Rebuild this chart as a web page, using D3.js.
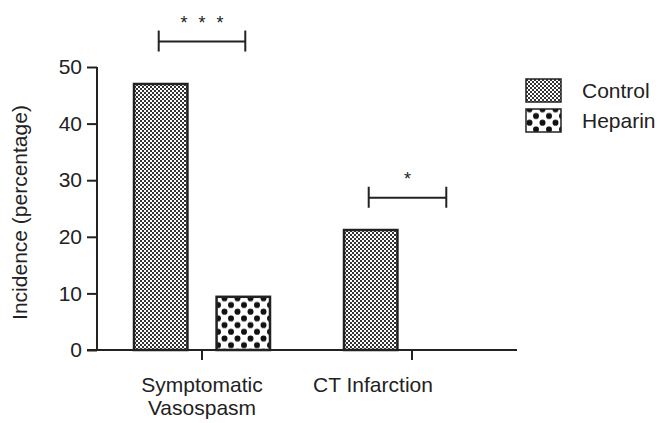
<!DOCTYPE html>
<html><head><meta charset="utf-8">
<script src="https://cdn.jsdelivr.net/npm/d3@7"></script>
<style>
body{margin:0;background:#fff;}
text{font-family:"Liberation Sans",Arial,Helvetica,sans-serif;fill:#222;}
</style></head>
<body><svg id="chart" width="668" height="423"></svg>
<script>
const categories = ["Symptomatic Vasospasm", "CT Infarction"];
const categoryLines = [["Symptomatic", "Vasospasm"], ["CT Infarction"]];
const seriesNames = ["Control", "Heparin"];
const controlValues = [47, 21.2];
const heparinValues = [9.4, 0];
const yTicks = [0, 10, 20, 30, 40, 50];
const yLabel = "Incidence (percentage)";
const significance = [
  {category: "Symptomatic Vasospasm", level: 54.5, label: "* * *"},
  {category: "CT Infarction", level: 26.9, label: "*"}
];

const svg = d3.select("#chart");
const defs = svg.append("defs");
// checker pattern
const chk = defs.append("pattern").attr("id","checker").attr("patternUnits","userSpaceOnUse")
  .attr("width",4).attr("height",4);
chk.append("rect").attr("width",4).attr("height",4).attr("fill","#fff");
chk.append("rect").attr("width",2).attr("height",2).attr("fill","#333");
chk.append("rect").attr("x",2).attr("y",2).attr("width",2).attr("height",2).attr("fill","#333");
// dot pattern
const dot = defs.append("pattern").attr("id","dots").attr("patternUnits","userSpaceOnUse")
  .attr("width",13).attr("height",13.4);
dot.append("rect").attr("width",13).attr("height",13.4).attr("fill","#fff");
dot.append("circle").attr("cx",3.5).attr("cy",3.5).attr("r",3).attr("fill","#111");
dot.append("circle").attr("cx",10).attr("cy",10.2).attr("r",3).attr("fill","#111");
const fills = ["url(#checker)","url(#dots)"];

const x0 = 97, x1 = 517, yBottom = 350, yTop = 67;
const x = d3.scaleBand().domain(categories).range([x0, x1]).padding(0);
const y = d3.scaleLinear().domain([0, 50]).range([yBottom, yTop]);
const xs = d3.scaleBand().domain(seriesNames).range([-68, 68]).paddingInner(24/136*2).paddingOuter(0);

const fontSize = 21;
// y axis
const yAxis = svg.append("g").attr("transform",`translate(${x0},0)`)
  .call(d3.axisLeft(y).tickValues(yTicks).tickSize(10).tickPadding(5));
yAxis.select(".domain").attr("stroke","#222").attr("stroke-width",2).attr("d",`M0,${yTop}V${yBottom}`);
yAxis.selectAll(".tick line").attr("stroke","#222").attr("stroke-width",2);
yAxis.selectAll(".tick text").style("font-size",fontSize+"px").attr("fill","#222")
  .style("font-family","'Liberation Sans',Arial,sans-serif");

// x axis
const xAxis = svg.append("g").attr("transform",`translate(0,${yBottom})`)
  .call(d3.axisBottom(x).tickSize(10).tickFormat(""));
xAxis.select(".domain").attr("stroke","#222").attr("stroke-width",2).attr("d",`M${x0-10},0H${x1}`);
xAxis.selectAll(".tick line").attr("stroke","#222").attr("stroke-width",2);

// x labels
const labelOffsets = [0, -39];
categories.forEach((c,i)=>{
  const t = svg.append("text").attr("text-anchor","middle").style("font-size",fontSize+"px")
    .attr("x", x(c)+x.bandwidth()/2 + labelOffsets[i]).attr("y", 392);
  categoryLines[i].forEach((ln,j)=>{
    t.append("tspan").attr("x", x(c)+x.bandwidth()/2 + labelOffsets[i]).attr("dy", j===0?0:23).text(ln);
  });
});

// bars
const rows = [];
categories.forEach((c,i)=>{
  rows.push({c, s:"Control", v:controlValues[i], f:fills[0]});
  rows.push({c, s:"Heparin", v:heparinValues[i], f:fills[1]});
});
svg.append("g").selectAll("rect").data(rows.filter(d=>d.v>0)).join("rect")
  .attr("x", d=> x(d.c)+x.bandwidth()/2 + xs(d.s))
  .attr("width", xs.bandwidth())
  .attr("y", d=> y(d.v))
  .attr("height", d=> y(0)-y(d.v))
  .attr("fill", d=>d.f).attr("stroke","#222").attr("stroke-width",2.5);

// significance
significance.forEach(s=>{
  const cx = x(s.category)+x.bandwidth()/2;
  const a = cx + xs("Control") + xs.bandwidth()/2 - 2;
  const b = s.category===categories[0] ? cx + xs("Heparin") + xs.bandwidth()/2 + 2 : cx + xs("Heparin") + xs.bandwidth()/2 - 7;
  const yy = y(s.level);
  const g = svg.append("g").attr("stroke","#222").attr("stroke-width",2);
  g.append("line").attr("x1",a).attr("x2",b).attr("y1",yy).attr("y2",yy);
  g.append("line").attr("x1",a).attr("x2",a).attr("y1",yy-11).attr("y2",yy+10);
  g.append("line").attr("x1",b).attr("x2",b).attr("y1",yy-11).attr("y2",yy+10);
  svg.append("text").attr("text-anchor","middle").attr("x",(a+b)/2+1.5).attr("y",yy-13)
    .style("font-size","18px").style("letter-spacing","3px").attr("xml:space","preserve").text(s.label);
});

// legend
const lg = svg.append("g").attr("transform","translate(526,79)");
seriesNames.forEach((n,i)=>{
  lg.append("rect").attr("x",0).attr("y",i*30).attr("width",35).attr("height",23)
    .attr("fill",fills[i]).attr("stroke","#222").attr("stroke-width",1.5);
  lg.append("text").attr("x",56).attr("y",i*30+19).style("font-size",fontSize+"px").text(n);
});

// y label
svg.append("text").attr("transform",`translate(27,${(yTop+yBottom)/2+4}) rotate(-90)`)
  .attr("text-anchor","middle").style("font-size",fontSize+"px").text(yLabel);
</script></body></html>
